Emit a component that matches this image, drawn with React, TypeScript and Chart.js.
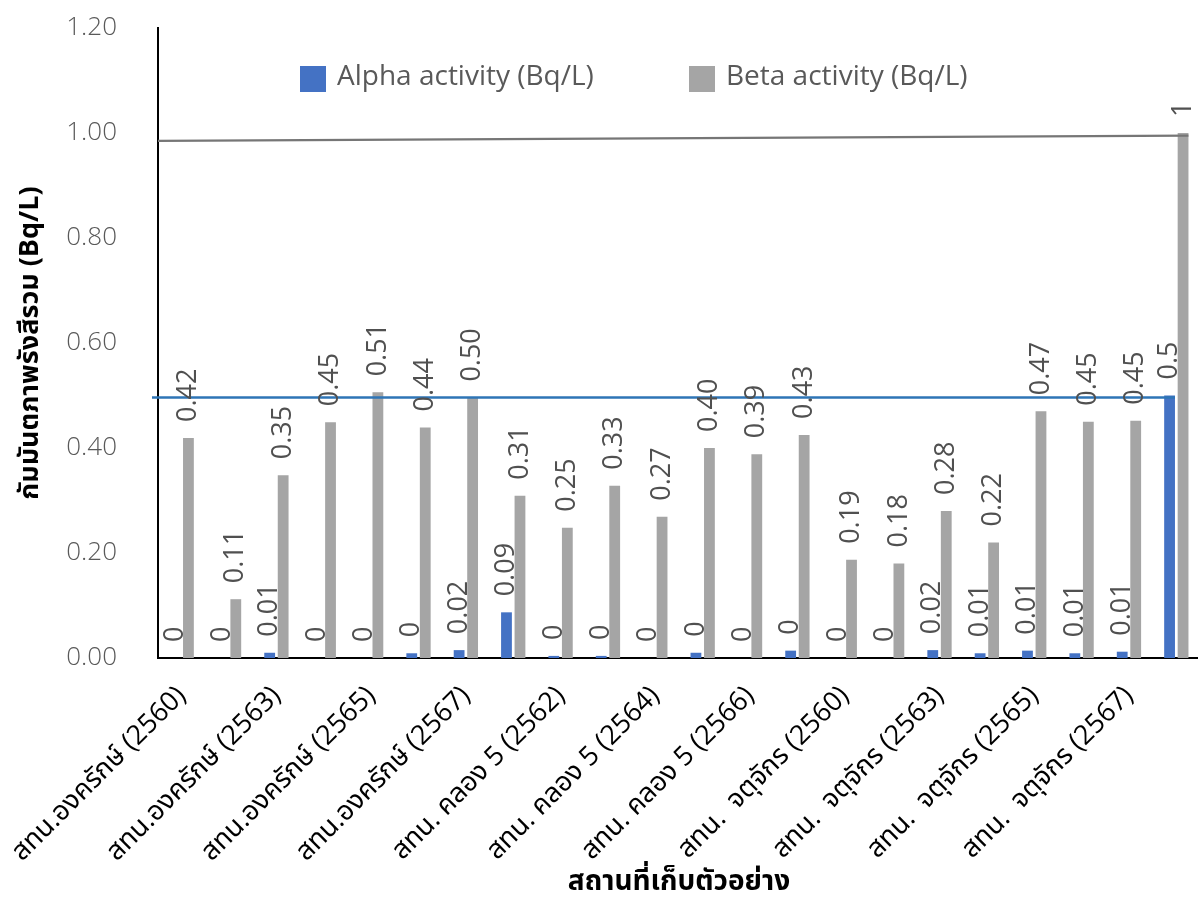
import React, { useEffect, useRef } from "react";
import { Chart, registerables } from "chart.js";

Chart.register(...registerables);

// ---------- data ----------
const categories = [
  "สทน.องครักษ์ (2560)",
  "สทน.องครักษ์ (2562)",
  "สทน.องครักษ์ (2563)",
  "สทน.องครักษ์ (2564)",
  "สทน.องครักษ์ (2565)",
  "สทน.องครักษ์ (2566)",
  "สทน.องครักษ์ (2567)",
  "สทน. คลอง 5 (2561)",
  "สทน. คลอง 5 (2562)",
  "สทน. คลอง 5 (2563)",
  "สทน. คลอง 5 (2564)",
  "สทน. คลอง 5 (2565)",
  "สทน. คลอง 5 (2566)",
  "สทน. คลอง 5 (2567)",
  "สทน.  จตุจักร (2560)",
  "สทน.  จตุจักร (2562)",
  "สทน.  จตุจักร (2563)",
  "สทน.  จตุจักร (2564)",
  "สทน.  จตุจักร (2565)",
  "สทน.  จตุจักร (2566)",
  "สทน.  จตุจักร (2567)",
  "ค่ามาตรฐาน",
];

const alphaValues = [
  0, 0, 0.01, 0, 0, 0.009, 0.015, 0.087, 0.004, 0.004, 0, 0.01, 0, 0.014,
  0, 0, 0.015, 0.009, 0.014, 0.009, 0.012, 0.5,
];
const alphaLabels = [
  "0", "0", "0.01", "0", "0", "0", "0.02", "0.09", "0", "0", "0", "0", "0",
  "0", "0", "0", "0.02", "0.01", "0.01", "0.01", "0.01", "0.5",
];

const betaValues = [
  0.419, 0.112, 0.348, 0.449, 0.506, 0.439, 0.496, 0.309, 0.248, 0.328,
  0.269, 0.4, 0.388, 0.425, 0.187, 0.18, 0.28, 0.22, 0.47, 0.45, 0.452, 1,
];
const betaLabels = [
  "0.42", "0.11", "0.35", "0.45", "0.51", "0.44", "0.50", "0.31", "0.25",
  "0.33", "0.27", "0.40", "0.39", "0.43", "0.19", "0.18", "0.28", "0.22",
  "0.47", "0.45", "0.45", "1",
];

const yTickValues = [0, 0.2, 0.4, 0.6, 0.8, 1.0, 1.2];

// limit lines: [value at start, value at end]
const alphaLimitLine = [0.496, 0.496];
const betaLimitLine = [0.985, 0.995];

const seriesNames = ["Alpha activity (Bq/L)", "Beta activity (Bq/L)"];
const yAxisTitle = "กัมมันตภาพรังสีรวม (Bq/L)";
const xAxisTitle = "สถานที่เก็บตัวอย่าง";

// ---------- styles ----------
const ALPHA_COLOR = "#4472C4";
const BETA_COLOR = "#A5A5A5";
const FONT = '"Open Sans", "Noto Sans", "Noto Sans Thai", sans-serif';

const limitLinePlugin = {
  id: "limitLines",
  afterDatasetsDraw(chart: any) {
    const { ctx, chartArea, scales } = chart;
    const y = scales.y;
    const last = categories.length - 1;
    const aBar = chart.getDatasetMeta(0).data[last];
    const bBar = chart.getDatasetMeta(1).data[last];
    ctx.save();
    ctx.lineCap = "butt";
    ctx.strokeStyle = "#2E75B6";
    ctx.lineWidth = 2.5;
    ctx.beginPath();
    ctx.moveTo(chartArea.left - 6, y.getPixelForValue(alphaLimitLine[0]));
    ctx.lineTo(aBar.x + aBar.width / 2, y.getPixelForValue(alphaLimitLine[1]));
    ctx.stroke();
    ctx.strokeStyle = "#767676";
    ctx.lineWidth = 2.5;
    ctx.beginPath();
    ctx.moveTo(chartArea.left, y.getPixelForValue(betaLimitLine[0]));
    ctx.lineTo(bBar.x + bBar.width / 2, y.getPixelForValue(betaLimitLine[1]));
    ctx.stroke();
    ctx.restore();
  },
};

const valueLabelPlugin = {
  id: "valueLabels",
  afterDatasetsDraw(chart: any) {
    const ctx = chart.ctx;
    const sets = [alphaLabels, betaLabels];
    chart.data.datasets.forEach((_ds: any, di: number) => {
      const meta = chart.getDatasetMeta(di);
      meta.data.forEach((bar: any, i: number) => {
        ctx.save();
        ctx.translate(bar.x, bar.y - 16);
        ctx.rotate(-Math.PI / 2);
        ctx.font = `27px ${FONT}`;
        ctx.fillStyle = "#505050";
        ctx.textAlign = "left";
        ctx.textBaseline = "middle";
        ctx.fillText(sets[di][i], 0, 0);
        ctx.restore();
      });
    });
  },
};

const customLegendPlugin = {
  id: "customLegend",
  afterDraw(chart: any) {
    const ctx = chart.ctx;
    const items = [
      { x: 300, color: ALPHA_COLOR, text: seriesNames[0] },
      { x: 689, color: BETA_COLOR, text: seriesNames[1] },
    ];
    ctx.save();
    items.forEach((it) => {
      ctx.fillStyle = it.color;
      ctx.fillRect(it.x, 66, 26, 26);
      ctx.font = `28px ${FONT}`;
      ctx.fillStyle = "#595959";
      ctx.textAlign = "left";
      ctx.textBaseline = "middle";
      ctx.fillText(it.text, it.x + 37, 77);
    });
    ctx.restore();
  },
};

export default function App() {
  const canvasRef = useRef<HTMLCanvasElement | null>(null);

  useEffect(() => {
    if (!canvasRef.current) return;
    const chart = new Chart(canvasRef.current, {
      type: "bar",
      data: {
        labels: categories,
        datasets: [
          {
            label: seriesNames[0],
            data: alphaValues,
            backgroundColor: ALPHA_COLOR,
            categoryPercentage: 0.57,
            barPercentage: 0.8,
          },
          {
            label: seriesNames[1],
            data: betaValues,
            backgroundColor: BETA_COLOR,
            categoryPercentage: 0.57,
            barPercentage: 0.8,
          },
        ],
      },
      options: {
        responsive: false,
        animation: false,
        devicePixelRatio: 1,
        layout: { padding: { top: 28, right: 2, left: 0, bottom: 0 } },
        plugins: {
          legend: { display: false },
          tooltip: { enabled: false },
        },
        scales: {
          x: {
            grid: { display: false, drawTicks: false },
            border: { display: true, color: "#000000", width: 2 },
            ticks: {
              autoSkip: false,
              minRotation: 45,
              maxRotation: 45,
              padding: 22,
              color: "#000000",
              font: { family: FONT, size: 27 },
              callback: (_v: any, i: number) => (i % 2 === 0 ? categories[i] : ""),
            },
            title: {
              display: true,
              text: xAxisTitle,
              color: "#000000",
              font: { family: FONT, size: 28, weight: "bold" },
              padding: { top: 0, bottom: 0 },
            },
            afterFit: (scale: any) => {
              scale.height = 241;
              scale.paddingLeft = 0;
              scale.paddingRight = 0;
            },
          },
          y: {
            min: 0,
            max: 1.2,
            grid: { display: false, drawTicks: false },
            border: { display: true, color: "#000000", width: 2 },
            afterBuildTicks: (scale: any) => {
              scale.ticks = yTickValues.map((v) => ({ value: v }));
            },
            ticks: {
              padding: 41,
              color: "#595959",
              font: { family: FONT, size: 26, weight: "300" },
              callback: (v: any) => Number(v).toFixed(2),
            },
            title: {
              display: true,
              text: yAxisTitle,
              color: "#000000",
              font: { family: FONT, size: 27, weight: "bold" },
              padding: { top: 14, bottom: 0 },
            },
            afterFit: (scale: any) => {
              scale.width = 158;
              scale.paddingTop = 0;
              scale.paddingBottom = 0;
            },
          },
        },
      },
      plugins: [limitLinePlugin, valueLabelPlugin, customLegendPlugin],
    });
    return () => chart.destroy();
  }, []);

  return (
    <div
      style={{
        position: "absolute",
        left: 0,
        top: 0,
        width: 1198,
        height: 899,
        overflow: "hidden",
        background: "#ffffff",
      }}
    >
      <canvas ref={canvasRef} width={1202} height={899} style={{ display: "block" }} />
    </div>
  );
}
